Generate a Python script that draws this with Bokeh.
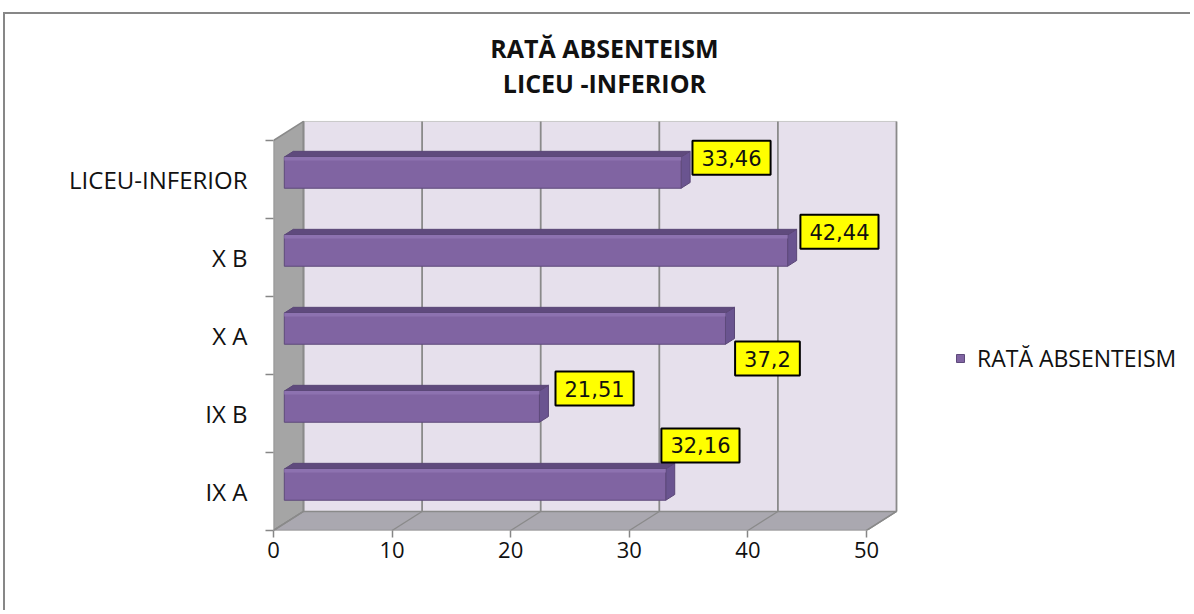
from bokeh.plotting import figure
from bokeh.models import Range1d, FixedTicker, Legend, LegendItem, Label
from bokeh.core.properties import value
from bokeh.embed import file_html
from bokeh.resources import INLINE

# ---- data ----
categories = ["IX A", "IX B", "X A", "X B", "LICEU-INFERIOR"]
values = [32.16, 21.51, 37.2, 42.44, 33.46]
x_ticks = [0, 10, 20, 30, 40, 50]
series_name = "RATĂ ABSENTEISM"
title_lines = ["RATĂ ABSENTEISM", "LICEU -INFERIOR"]

# ---- style constants (pseudo 3D) ----
XMAX = 50
N = len(categories)
DX, DY = 2.53, 0.244          # depth offset of the back wall, in data units
F0, F1 = 0.36, 0.66           # bar front/back depth fractions
HALF = 0.2                    # half bar thickness (category units)
lab_dx = [3.84, 5.56, 4.45, 5.28, 5.16]
lab_dy = [0.59, 0.32, -0.295, 0.33, 0.28]

W, H = 1187, 598
LEFT, BOTTOM = 268, 82
PX_X, PX_Y = 11.86, 78.0      # pixels per data unit
p = figure(width=W, height=H, output_backend="svg", toolbar_location=None,
           title=None,
           x_range=Range1d(0, (W - LEFT) / PX_X),
           y_range=Range1d(0, (H - BOTTOM) / PX_Y),
           min_border_left=LEFT, min_border_right=0, min_border_top=0,
           min_border_bottom=BOTTOM)
p.styles = {"margin-top": "12px", "margin-left": "3px",
            "border-top": "2px solid #878787",
            "border-left": "2px solid #878787"}
p.outline_line_color = None
p.grid.visible = False
p.background_fill_color = "white"

# walls
p.quad(left=DX, right=XMAX + DX, bottom=DY, top=N + DY,
       fill_color="#E6E0EC", line_color="#C8C8C8", line_width=1)
p.patch([0, DX, DX, 0], [0, DY, N + DY, N], fill_color="#A5A5A5",
        line_color="#8A8A8A", line_width=1.5)
p.patch([0, XMAX, XMAX + DX, DX], [0, 0, DY, DY], fill_color="#AAA8B0",
        line_color="#8A8A8A", line_width=1.5)
# gridlines
p.segment(x0=[t + DX for t in x_ticks], y0=[DY] * len(x_ticks),
          x1=[t + DX for t in x_ticks], y1=[N + DY] * len(x_ticks),
          line_color="#8A8A8A", line_width=1.8)
p.segment(x0=x_ticks, y0=[0] * len(x_ticks),
          x1=[t + DX for t in x_ticks], y1=[DY] * len(x_ticks),
          line_color="#8A8A8A", line_width=1.3)

# bars
x0f, y0f = F0 * DX, F0 * DY
x1b, y1b = F1 * DX, F1 * DY
cy = [i + 0.5 for i in range(N)]
bot = [c - HALF + y0f for c in cy]
top = [c + HALF + y0f for c in cy]
right = [x0f + v for v in values]
top_xs, top_ys, end_xs, end_ys = [], [], [], []
for v, b, t in zip(values, bot, top):
    top_xs.append([x0f, x0f + v, x1b + v, x1b])
    top_ys.append([t, t, t + (y1b - y0f), t + (y1b - y0f)])
    end_xs.append([x0f + v, x0f + v, x1b + v, x1b + v])
    end_ys.append([b, t, t + (y1b - y0f), b + (y1b - y0f)])
p.patches(top_xs, top_ys, fill_color="#5F4A7D", line_color="#5A4676", line_width=1)
p.patches(end_xs, end_ys, fill_color="#6A5490", line_color="#5A4676", line_width=1)
front = p.quad(left=[x0f] * N, right=right, bottom=bot, top=top,
               fill_color="#8064A2", line_color="#5E4A7B", line_width=1)
p.quad(left=[x0f] * N, right=right, bottom=[t - 0.045 for t in top], top=top,
       fill_color="#8D72B0", line_color=None)

# data labels
p.text(x=[v + dx for v, dx in zip(values, lab_dx)],
       y=[c + dy for c, dy in zip(cy, lab_dy)],
       text=[str(v).replace(".", ",") for v in values],
       text_align="center", text_baseline="middle",
       text_font=value("DejaVu Sans"), text_font_size="21px", text_color="#111111",
       background_fill_color="#FFFF00", border_line_color="#000000",
       border_line_width=2, padding=dict(left=9, right=9, top=9, bottom=9))

# axes
xa = p.xaxis[0]
xa.ticker = FixedTicker(ticks=x_ticks)
xa.axis_line_color = None
xa.major_tick_out = 7
xa.major_tick_in = 0
xa.major_tick_line_color = "#868686"
xa.major_tick_line_width = 1.5
xa.minor_tick_line_color = None
xa.major_label_standoff = 4
xa.major_label_text_font = "Open Sans"
xa.major_label_text_font_size = "22px"
xa.major_label_text_color = "#111111"

ya = p.yaxis[0]
ya.ticker = FixedTicker(ticks=cy, minor_ticks=list(range(N + 1)))
ya.major_label_overrides = {c: name for c, name in zip(cy, categories)}
ya.axis_line_color = None
ya.major_tick_line_color = None
ya.major_tick_out = 0
ya.minor_tick_out = 8
ya.minor_tick_in = 0
ya.minor_tick_line_color = "#868686"
ya.minor_tick_line_width = 1.5
ya.major_label_standoff = 18
ya.major_label_text_font = "Open Sans"
ya.major_label_text_font_size = "24px"
ya.major_label_text_color = "#111111"

# title
for line, yy in zip(title_lines, [6.18, 5.74]):
    p.add_layout(Label(x=27.9, y=yy, text=line, text_align="center",
                       text_baseline="middle", text_font="Open Sans",
                       text_font_style="bold", text_font_size="25px",
                       text_color="#111111"))

# legend
legend = Legend(items=[LegendItem(label=series_name, renderers=[front])],
                location=(682, 156), glyph_width=10, glyph_height=10,
                label_standoff=12, padding=0, margin=0,
                border_line_color=None, background_fill_alpha=0,
                label_text_font="Open Sans", label_text_font_size="23px",
                label_text_color="#111111")
p.add_layout(legend)

open("out.html", "w").write(file_html(p, INLINE))
